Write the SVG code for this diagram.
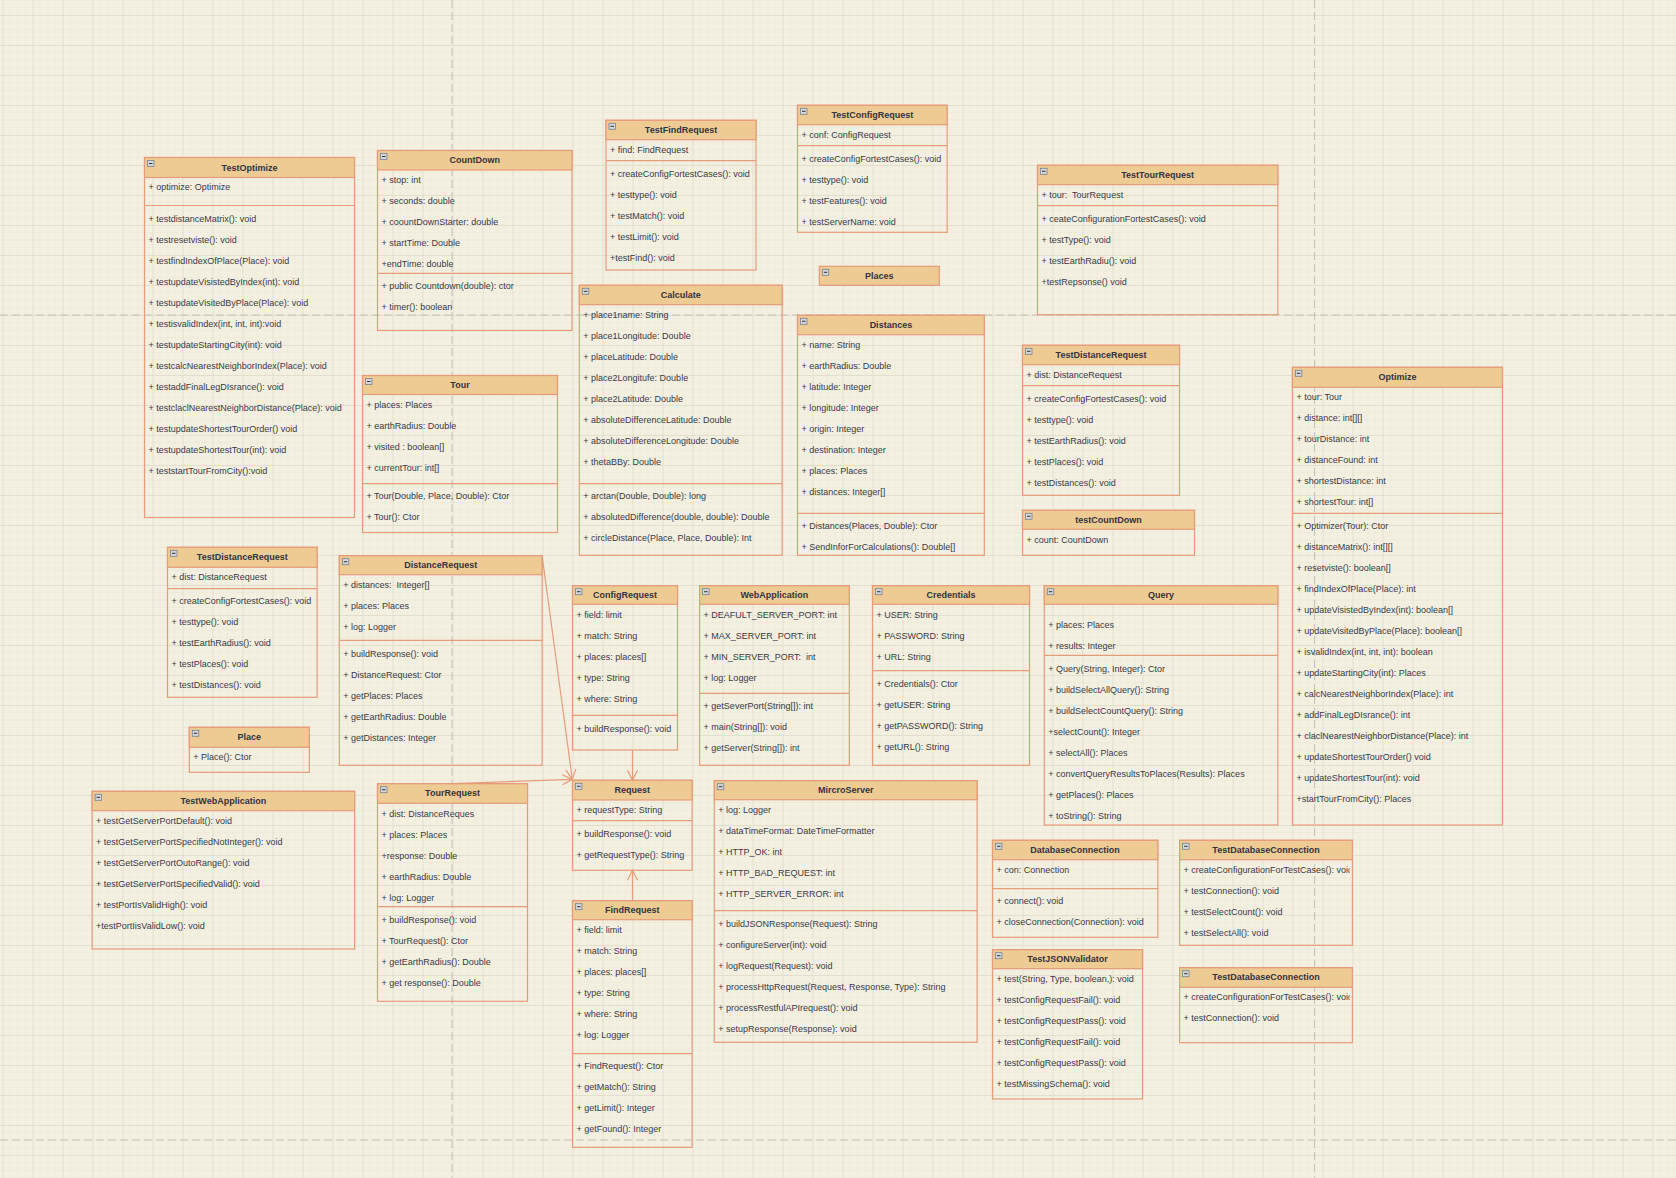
<svg xmlns="http://www.w3.org/2000/svg" xmlns:xlink="http://www.w3.org/1999/xlink" width="1676" height="1178" viewBox="0 0 1676 1178">
  <style>
    .b { fill: none; stroke: #E69B7B; stroke-width: 1.2; }
    .h { fill: #EDCB93; stroke: #E69B7B; stroke-width: 1.2; }
    .s { stroke: #E69B7B; stroke-width: 1.2; }
    .t { font-family: "Liberation Sans", Arial, sans-serif; font-size: 9px; font-weight: bold; fill: #333340; text-anchor: middle; }
    .r { font-family: "Liberation Sans", Arial, sans-serif; font-size: 9px; fill: #3A3A48; }
    .c { fill: none; stroke: #E69B7B; stroke-width: 1.2; marker-end: url(#open); }
    .pg { stroke: #C4C2B6; stroke-width: 1; stroke-dasharray: 8 4; }
  </style>
  <defs>
    <pattern id="grid" patternUnits="userSpaceOnUse" x="2.5" y="15" width="30" height="30">
      <rect width="30" height="30" fill="#F3F0E1"/>
      <path d="M7.5 0V30M15 0V30M22.5 0V30M0 7.5H30M0 15H30M0 22.5H30" stroke="#EEEBDA" stroke-width="1"/>
      <path d="M0.5 0V30M0 0.5H30" stroke="#E2DFCE" stroke-width="1"/>
    </pattern>
    <g id="ico">
      <rect x="0" y="0" width="6.5" height="6" fill="#D3D7DC" stroke="#7A8290" stroke-width="0.8"/>
      <path d="M1.5 3H5" stroke="#333" stroke-width="1"/>
    </g>
    <marker id="open" viewBox="-11 -6 12 12" refX="0" refY="0" markerWidth="12" markerHeight="12" markerUnits="userSpaceOnUse" orient="auto">
      <path d="M-10,-5 L0,0 L-10,5" fill="none" stroke="#E69B7B" stroke-width="1.2"/>
    </marker>
    <clipPath id="clipTdc" clipPathUnits="userSpaceOnUse">
      <rect x="0" y="0" width="170" height="200"/>
    </clipPath>
  </defs>

  <!-- canvas -->
  <rect width="1676" height="1178" fill="url(#grid)"/>
  <g id="page-breaks">
    <line class="pg" x1="452" y1="0" x2="452" y2="1178"/>
    <line class="pg" x1="1314.6" y1="0" x2="1314.6" y2="1178"/>
    <line class="pg" x1="0" y1="315" x2="1676" y2="315"/>
    <line class="pg" x1="0" y1="1140" x2="1676" y2="1140"/>
  </g>

  <g id="TestOptimize" transform="translate(144.5,157.5)">
    <rect class="b" width="210" height="360"/>
    <rect class="h" width="210" height="20"/>
    <use href="#ico" x="3" y="3"/>
    <text class="t" x="105" y="13">TestOptimize</text>
    <line class="s" x1="0" y1="48" x2="210" y2="48"/>
    <text class="r">
      <tspan x="4" y="32.5">+ optimize: Optimize</tspan>
      <tspan x="4" y="64.5">+ testdistanceMatrix(): void</tspan>
      <tspan x="4" y="85.5">+ testresetviste(): void</tspan>
      <tspan x="4" y="106.5">+ testfindIndexOfPlace(Place): void</tspan>
      <tspan x="4" y="127.5">+ testupdateVisistedByIndex(int): void</tspan>
      <tspan x="4" y="148.5">+ testupdateVisitedByPlace(Place): void</tspan>
      <tspan x="4" y="169.5">+ testisvalidIndex(int, int, int):void</tspan>
      <tspan x="4" y="190.5">+ testupdateStartingCity(int): void</tspan>
      <tspan x="4" y="211.5">+ testcalcNearestNeighborIndex(Place): void</tspan>
      <tspan x="4" y="232.5">+ testaddFinalLegDIsrance(): void</tspan>
      <tspan x="4" y="253.5">+ testclaclNearestNeighborDistance(Place): void</tspan>
      <tspan x="4" y="274.5">+ testupdateShortestTourOrder() void</tspan>
      <tspan x="4" y="295.5">+ testupdateShortestTour(int): void</tspan>
      <tspan x="4" y="316.5">+ teststartTourFromCity():void</tspan>
    </text>
  </g>

  <g id="CountDown" transform="translate(377.5,150.5)">
    <rect class="b" width="194.5" height="180"/>
    <rect class="h" width="194.5" height="19.5"/>
    <use href="#ico" x="3" y="3"/>
    <text class="t" x="97.2" y="12.8">CountDown</text>
    <line class="s" x1="0" y1="122.8" x2="194.5" y2="122.8"/>
    <text class="r">
      <tspan x="4" y="32.5">+ stop: int</tspan>
      <tspan x="4" y="53.5">+ seconds: double</tspan>
      <tspan x="4" y="74.5">+ coountDownStarter: double</tspan>
      <tspan x="4" y="95.5">+ startTime: Double</tspan>
      <tspan x="4" y="116.5">+endTime: double</tspan>
      <tspan x="4" y="138.5">+ public Countdown(double): ctor</tspan>
      <tspan x="4" y="159.5">+ timer(): boolean</tspan>
    </text>
  </g>

  <g id="Tour" transform="translate(362.5,375.5)">
    <rect class="b" width="195" height="157"/>
    <rect class="h" width="195" height="19"/>
    <use href="#ico" x="3" y="3"/>
    <text class="t" x="97.5" y="12.5">Tour</text>
    <line class="s" x1="0" y1="108.2" x2="195" y2="108.2"/>
    <text class="r">
      <tspan x="4" y="32.5">+ places: Places</tspan>
      <tspan x="4" y="53.5">+ earthRadius: Double</tspan>
      <tspan x="4" y="74.5">+ visited : boolean[]</tspan>
      <tspan x="4" y="95.5">+ currentTour: int[]</tspan>
      <tspan x="4" y="123.5">+ Tour(Double, Place, Double): Ctor</tspan>
      <tspan x="4" y="144.5">+ Tour(): Ctor</tspan>
    </text>
  </g>

  <g id="TestFindRequest" transform="translate(606,120.3)">
    <rect class="b" width="150" height="149.7"/>
    <rect class="h" width="150" height="19.4"/>
    <use href="#ico" x="3" y="3"/>
    <text class="t" x="75" y="12.7">TestFindRequest</text>
    <line class="s" x1="0" y1="40.4" x2="150" y2="40.4"/>
    <text class="r">
      <tspan x="4" y="32.7">+ find: FindRequest</tspan>
      <tspan x="4" y="56.7">+ createConfigFortestCases(): void</tspan>
      <tspan x="4" y="77.7">+ testtype(): void</tspan>
      <tspan x="4" y="98.7">+ testMatch(): void</tspan>
      <tspan x="4" y="119.7">+ testLimit(): void</tspan>
      <tspan x="4" y="140.7">+testFind(): void</tspan>
    </text>
  </g>

  <g id="TestConfigRequest" transform="translate(797.5,105.3)">
    <rect class="b" width="149.6" height="127"/>
    <rect class="h" width="149.6" height="19.4"/>
    <use href="#ico" x="3" y="3"/>
    <text class="t" x="74.8" y="12.7">TestConfigRequest</text>
    <line class="s" x1="0" y1="40.4" x2="149.6" y2="40.4"/>
    <text class="r">
      <tspan x="4" y="32.7">+ conf: ConfigRequest</tspan>
      <tspan x="4" y="56.7">+ createConfigFortestCases(): void</tspan>
      <tspan x="4" y="77.7">+ testtype(): void</tspan>
      <tspan x="4" y="98.7">+ testFeatures(): void</tspan>
      <tspan x="4" y="119.7">+ testServerName: void</tspan>
    </text>
  </g>

  <g id="Places" transform="translate(819.3,266.3)">
    <rect class="h" width="120" height="19"/>
    <use href="#ico" x="3" y="3"/>
    <text class="t" x="60" y="12.5">Places</text>
  </g>

  <g id="Calculate" transform="translate(579.3,285.3)">
    <rect class="b" width="202.8" height="270"/>
    <rect class="h" width="202.8" height="19.4"/>
    <use href="#ico" x="3" y="3"/>
    <text class="t" x="101.4" y="12.7">Calculate</text>
    <line class="s" x1="0" y1="198.4" x2="202.8" y2="198.4"/>
    <text class="r">
      <tspan x="4" y="32.7">+ place1name: String</tspan>
      <tspan x="4" y="53.7">+ place1Longitude: Double</tspan>
      <tspan x="4" y="74.7">+ placeLatitude: Double</tspan>
      <tspan x="4" y="95.7">+ place2Longitufe: Double</tspan>
      <tspan x="4" y="116.7">+ place2Latitude: Double</tspan>
      <tspan x="4" y="137.7">+ absoluteDifferenceLatitude: Double</tspan>
      <tspan x="4" y="158.7">+ absoluteDifferenceLongitude: Double</tspan>
      <tspan x="4" y="179.7">+ thetaBBy: Double</tspan>
      <tspan x="4" y="213.7">+ arctan(Double, Double): long</tspan>
      <tspan x="4" y="234.7">+ absolutedDifference(double, double): Double</tspan>
      <tspan x="4" y="255.7">+ circleDistance(Place, Place, Double): Int</tspan>
    </text>
  </g>

  <g id="Distances" transform="translate(797.5,315.3)">
    <rect class="b" width="186.8" height="240"/>
    <rect class="h" width="186.8" height="19.4"/>
    <use href="#ico" x="3" y="3"/>
    <text class="t" x="93.4" y="12.7">Distances</text>
    <line class="s" x1="0" y1="198" x2="186.8" y2="198"/>
    <text class="r">
      <tspan x="4" y="32.7">+ name: String</tspan>
      <tspan x="4" y="53.7">+ earthRadius: Double</tspan>
      <tspan x="4" y="74.7">+ latitude: Integer</tspan>
      <tspan x="4" y="95.7">+ longitude: Integer</tspan>
      <tspan x="4" y="116.7">+ origin: Integer</tspan>
      <tspan x="4" y="137.7">+ destination: Integer</tspan>
      <tspan x="4" y="158.7">+ places: Places</tspan>
      <tspan x="4" y="179.7">+ distances: Integer[]</tspan>
      <tspan x="4" y="213.7">+ Distances(Places, Double): Ctor</tspan>
      <tspan x="4" y="234.7">+ SendInforForCalculations(): Double[]</tspan>
    </text>
  </g>

  <g id="TestTourRequest" transform="translate(1037.5,165.3)">
    <rect class="b" width="240.3" height="149.4"/>
    <rect class="h" width="240.3" height="19.4"/>
    <use href="#ico" x="3" y="3"/>
    <text class="t" x="120.1" y="12.7">TestTourRequest</text>
    <line class="s" x1="0" y1="40.4" x2="240.3" y2="40.4"/>
    <text class="r" xml:space="preserve">
      <tspan x="4" y="32.7">+ tour:  TourRequest</tspan>
      <tspan x="4" y="56.7">+ ceateConfigurationFortestCases(): void</tspan>
      <tspan x="4" y="77.7">+ testType(): void</tspan>
      <tspan x="4" y="98.7">+ testEarthRadiu(): void</tspan>
      <tspan x="4" y="119.7">+testRepsonse() void</tspan>
    </text>
  </g>

  <g id="TestDistanceRequest-b" transform="translate(1022.5,345.3)">
    <rect class="b" width="157" height="150"/>
    <rect class="h" width="157" height="19.4"/>
    <use href="#ico" x="3" y="3"/>
    <text class="t" x="78.5" y="12.7">TestDistanceRequest</text>
    <line class="s" x1="0" y1="40.4" x2="157" y2="40.4"/>
    <text class="r">
      <tspan x="4" y="32.7">+ dist: DistanceRequest</tspan>
      <tspan x="4" y="56.7">+ createConfigFortestCases(): void</tspan>
      <tspan x="4" y="77.7">+ testtype(): void</tspan>
      <tspan x="4" y="98.7">+ testEarthRadius(): void</tspan>
      <tspan x="4" y="119.7">+ testPlaces(): void</tspan>
      <tspan x="4" y="140.7">+ testDistances(): void</tspan>
    </text>
  </g>

  <g id="testCountDown" transform="translate(1022.5,510.3)">
    <rect class="b" width="172" height="45"/>
    <rect class="h" width="172" height="19"/>
    <use href="#ico" x="3" y="3"/>
    <text class="t" x="86" y="12.5">testCountDown</text>
    <text class="r" x="4" y="32.7">+ count: CountDown</text>
  </g>

  <g id="Optimize" transform="translate(1292.4,367.3)">
    <rect class="b" width="210" height="457.7"/>
    <rect class="h" width="210" height="20"/>
    <use href="#ico" x="3" y="3"/>
    <text class="t" x="105" y="13">Optimize</text>
    <line class="s" x1="0" y1="146" x2="210" y2="146"/>
    <text class="r">
      <tspan x="4" y="32.7">+ tour: Tour</tspan>
      <tspan x="4" y="53.7">+ distance: int[][]</tspan>
      <tspan x="4" y="74.7">+ tourDistance: int</tspan>
      <tspan x="4" y="95.7">+ distanceFound: int</tspan>
      <tspan x="4" y="116.7">+ shortestDistance: int</tspan>
      <tspan x="4" y="137.7">+ shortestTour: int[]</tspan>
      <tspan x="4" y="161.7">+ Optimizer(Tour): Ctor</tspan>
      <tspan x="4" y="182.7">+ distanceMatrix(): int[][]</tspan>
      <tspan x="4" y="203.7">+ resetviste(): boolean[]</tspan>
      <tspan x="4" y="224.7">+ findIndexOfPlace(Place): int</tspan>
      <tspan x="4" y="245.7">+ updateVisistedByIndex(int): boolean[]</tspan>
      <tspan x="4" y="266.7">+ updateVisitedByPlace(Place): boolean[]</tspan>
      <tspan x="4" y="287.7">+ isvalidIndex(int, int, int): boolean</tspan>
      <tspan x="4" y="308.7">+ updateStartingCity(int): Places</tspan>
      <tspan x="4" y="329.7">+ calcNearestNeighborIndex(Place): int</tspan>
      <tspan x="4" y="350.7">+ addFinalLegDIsrance(): int</tspan>
      <tspan x="4" y="371.7">+ claclNearestNeighborDistance(Place): int</tspan>
      <tspan x="4" y="392.7">+ updateShortestTourOrder() void</tspan>
      <tspan x="4" y="413.7">+ updateShortestTour(int): void</tspan>
      <tspan x="4" y="434.7">+startTourFromCity(): Places</tspan>
    </text>
  </g>

  <g id="TestDistanceRequest-a" transform="translate(167.5,547.3)">
    <rect class="b" width="149.6" height="150"/>
    <rect class="h" width="149.6" height="20"/>
    <use href="#ico" x="3" y="3"/>
    <text class="t" x="74.8" y="13">TestDistanceRequest</text>
    <line class="s" x1="0" y1="41.4" x2="149.6" y2="41.4"/>
    <text class="r">
      <tspan x="4" y="32.7">+ dist: DistanceRequest</tspan>
      <tspan x="4" y="56.7">+ createConfigFortestCases(): void</tspan>
      <tspan x="4" y="77.7">+ testtype(): void</tspan>
      <tspan x="4" y="98.7">+ testEarthRadius(): void</tspan>
      <tspan x="4" y="119.7">+ testPlaces(): void</tspan>
      <tspan x="4" y="140.7">+ testDistances(): void</tspan>
    </text>
  </g>

  <g id="DistanceRequest" transform="translate(339.3,555.7)">
    <rect class="b" width="202.8" height="209.6"/>
    <rect class="h" width="202.8" height="19"/>
    <use href="#ico" x="3" y="3"/>
    <text class="t" x="101.4" y="12.5">DistanceRequest</text>
    <line class="s" x1="0" y1="84.6" x2="202.8" y2="84.6"/>
    <text class="r" xml:space="preserve">
      <tspan x="4" y="32.3">+ distances:  Integer[]</tspan>
      <tspan x="4" y="53.3">+ places: Places</tspan>
      <tspan x="4" y="74.3">+ log: Logger</tspan>
      <tspan x="4" y="101.3">+ buildResponse(): void</tspan>
      <tspan x="4" y="122.3">+ DistanceRequest: Ctor</tspan>
      <tspan x="4" y="143.3">+ getPlaces: Places</tspan>
      <tspan x="4" y="164.3">+ getEarthRadius: Double</tspan>
      <tspan x="4" y="185.3">+ getDistances: Integer</tspan>
    </text>
  </g>

  <g id="Place" transform="translate(189.3,727.3)">
    <rect class="b" width="120" height="45"/>
    <rect class="h" width="120" height="20"/>
    <use href="#ico" x="3" y="3"/>
    <text class="t" x="60" y="13">Place</text>
    <text class="r" x="4" y="32.7">+ Place(): Ctor</text>
  </g>

  <g id="ConfigRequest" transform="translate(572.5,585.7)">
    <rect class="b" width="105" height="164.3"/>
    <rect class="h" width="105" height="18.6"/>
    <use href="#ico" x="3" y="3"/>
    <text class="t" x="52.5" y="12.3">ConfigRequest</text>
    <line class="s" x1="0" y1="129.6" x2="105" y2="129.6"/>
    <text class="r">
      <tspan x="4" y="32.3">+ field: limit</tspan>
      <tspan x="4" y="53.3">+ match: String</tspan>
      <tspan x="4" y="74.3">+ places: places[]</tspan>
      <tspan x="4" y="95.3">+ type: String</tspan>
      <tspan x="4" y="116.3">+ where: String</tspan>
      <tspan x="4" y="146.3">+ buildResponse(): void</tspan>
    </text>
  </g>

  <g id="WebApplication" transform="translate(699.6,585.7)">
    <rect class="b" width="149.7" height="179.6"/>
    <rect class="h" width="149.7" height="18.6"/>
    <use href="#ico" x="3" y="3"/>
    <text class="t" x="74.8" y="12.3">WebApplication</text>
    <line class="s" x1="0" y1="107.6" x2="149.7" y2="107.6"/>
    <text class="r" xml:space="preserve">
      <tspan x="4" y="32.3">+ DEAFULT_SERVER_PORT: int</tspan>
      <tspan x="4" y="53.3">+ MAX_SERVER_PORT: int</tspan>
      <tspan x="4" y="74.3">+ MIN_SERVER_PORT:  int</tspan>
      <tspan x="4" y="95.3">+ log: Logger</tspan>
      <tspan x="4" y="123.3">+ getSeverPort(String[]): int</tspan>
      <tspan x="4" y="144.3">+ main(String[]): void</tspan>
      <tspan x="4" y="165.3">+ getServer(String[]): int</tspan>
    </text>
  </g>

  <g id="Credentials" transform="translate(872.5,585.7)">
    <rect class="b" width="157" height="179.6"/>
    <rect class="h" width="157" height="18.6"/>
    <use href="#ico" x="3" y="3"/>
    <text class="t" x="78.5" y="12.3">Credentials</text>
    <line class="s" x1="0" y1="85" x2="157" y2="85"/>
    <text class="r">
      <tspan x="4" y="32.3">+ USER: String</tspan>
      <tspan x="4" y="53.3">+ PASSWORD: String</tspan>
      <tspan x="4" y="74.3">+ URL: String</tspan>
      <tspan x="4" y="101.3">+ Credentials(): Ctor</tspan>
      <tspan x="4" y="122.3">+ getUSER: String</tspan>
      <tspan x="4" y="143.3">+ getPASSWORD(): String</tspan>
      <tspan x="4" y="164.3">+ getURL(): String</tspan>
    </text>
  </g>

  <g id="Query" transform="translate(1044.3,585.7)">
    <rect class="b" width="233.5" height="239.3"/>
    <rect class="h" width="233.5" height="18.6"/>
    <use href="#ico" x="3" y="3"/>
    <text class="t" x="116.7" y="12.3">Query</text>
    <line class="s" x1="0" y1="69.6" x2="233.5" y2="69.6"/>
    <text class="r">
      <tspan x="4" y="42.3">+ places: Places</tspan>
      <tspan x="4" y="63.3">+ results: Integer</tspan>
      <tspan x="4" y="86.3">+ Query(String, Integer): Ctor</tspan>
      <tspan x="4" y="107.3">+ buildSelectAllQuery(): String</tspan>
      <tspan x="4" y="128.3">+ buildSelectCountQuery(): String</tspan>
      <tspan x="4" y="149.3">+selectCount(): Integer</tspan>
      <tspan x="4" y="170.3">+ selectAll(): Places</tspan>
      <tspan x="4" y="191.3">+ convertQueryResultsToPlaces(Results): Places</tspan>
      <tspan x="4" y="212.3">+ getPlaces(): Places</tspan>
      <tspan x="4" y="233.3">+ toString(): String</tspan>
    </text>
  </g>

  <g id="TestWebApplication" transform="translate(92.1,791.3)">
    <rect class="b" width="262.5" height="157.7"/>
    <rect class="h" width="262.5" height="19.4"/>
    <use href="#ico" x="3" y="3"/>
    <text class="t" x="131.2" y="12.7">TestWebApplication</text>
    <text class="r">
      <tspan x="4" y="32.7">+ testGetServerPortDefault(): void</tspan>
      <tspan x="4" y="53.7">+ testGetServerPortSpecifiedNotInteger(): void</tspan>
      <tspan x="4" y="74.7">+ testGetServerPortOutoRange(): void</tspan>
      <tspan x="4" y="95.7">+ testGetServerPortSpecifiedValid(): void</tspan>
      <tspan x="4" y="116.7">+ testPortIsValidHigh(): void</tspan>
      <tspan x="4" y="137.7">+testPortIisValidLow(): void</tspan>
    </text>
  </g>

  <g id="TourRequest" transform="translate(377.5,783.7)">
    <rect class="b" width="150" height="217.6"/>
    <rect class="h" width="150" height="19.6"/>
    <use href="#ico" x="3" y="3"/>
    <text class="t" x="75" y="12.8">TourRequest</text>
    <line class="s" x1="0" y1="123" x2="150" y2="123"/>
    <text class="r">
      <tspan x="4" y="33.3">+ dist: DistanceReques</tspan>
      <tspan x="4" y="54.3">+ places: Places</tspan>
      <tspan x="4" y="75.3">+response: Double</tspan>
      <tspan x="4" y="96.3">+ earthRadius: Double</tspan>
      <tspan x="4" y="117.3">+ log: Logger</tspan>
      <tspan x="4" y="139.3">+ buildResponse(): void</tspan>
      <tspan x="4" y="160.3">+ TourRequest(): Ctor</tspan>
      <tspan x="4" y="181.3">+ getEarthRadius(): Double</tspan>
      <tspan x="4" y="202.3">+ get response(): Double</tspan>
    </text>
  </g>

  <g id="Request" transform="translate(572.5,780.3)">
    <rect class="b" width="119.6" height="90"/>
    <rect class="h" width="119.6" height="19.7"/>
    <use href="#ico" x="3" y="3"/>
    <text class="t" x="59.8" y="12.8">Request</text>
    <line class="s" x1="0" y1="40.4" x2="119.6" y2="40.4"/>
    <text class="r">
      <tspan x="4" y="32.7">+ requestType: String</tspan>
      <tspan x="4" y="56.7">+ buildResponse(): void</tspan>
      <tspan x="4" y="77.7">+ getRequestType(): String</tspan>
    </text>
  </g>

  <g id="FindRequest" transform="translate(572.5,900.7)">
    <rect class="b" width="119.6" height="246.6"/>
    <rect class="h" width="119.6" height="19"/>
    <use href="#ico" x="3" y="3"/>
    <text class="t" x="59.8" y="12.5">FindRequest</text>
    <line class="s" x1="0" y1="153" x2="119.6" y2="153"/>
    <text class="r">
      <tspan x="4" y="32.3">+ field: limit</tspan>
      <tspan x="4" y="53.3">+ match: String</tspan>
      <tspan x="4" y="74.3">+ places: places[]</tspan>
      <tspan x="4" y="95.3">+ type: String</tspan>
      <tspan x="4" y="116.3">+ where: String</tspan>
      <tspan x="4" y="137.3">+ log: Logger</tspan>
      <tspan x="4" y="168.3">+ FindRequest(): Ctor</tspan>
      <tspan x="4" y="189.3">+ getMatch(): String</tspan>
      <tspan x="4" y="210.3">+ getLimit(): Integer</tspan>
      <tspan x="4" y="231.3">+ getFound(): Integer</tspan>
    </text>
  </g>

  <g id="MircroServer" transform="translate(714.3,780.7)">
    <rect class="b" width="262.8" height="261.6"/>
    <rect class="h" width="262.8" height="19"/>
    <use href="#ico" x="3" y="3"/>
    <text class="t" x="131.4" y="12.5">MircroServer</text>
    <line class="s" x1="0" y1="130" x2="262.8" y2="130"/>
    <text class="r">
      <tspan x="4" y="32.3">+ log: Logger</tspan>
      <tspan x="4" y="53.3">+ dataTimeFormat: DateTimeFormatter</tspan>
      <tspan x="4" y="74.3">+ HTTP_OK: int</tspan>
      <tspan x="4" y="95.3">+ HTTP_BAD_REQUEST: int</tspan>
      <tspan x="4" y="116.3">+ HTTP_SERVER_ERROR: int</tspan>
      <tspan x="4" y="146.3">+ buildJSONResponse(Request): String</tspan>
      <tspan x="4" y="167.3">+ configureServer(int): void</tspan>
      <tspan x="4" y="188.3">+ logRequest(Request): void</tspan>
      <tspan x="4" y="209.3">+ processHttpRequest(Request, Response, Type): String</tspan>
      <tspan x="4" y="230.3">+ processRestfulAPIrequest(): void</tspan>
      <tspan x="4" y="251.3">+ setupResponse(Response): void</tspan>
    </text>
  </g>

  <g id="DatabaseConnection" transform="translate(992.5,840.3)">
    <rect class="b" width="165.3" height="97"/>
    <rect class="h" width="165.3" height="19.4"/>
    <use href="#ico" x="3" y="3"/>
    <text class="t" x="82.6" y="12.7">DatabaseConnection</text>
    <line class="s" x1="0" y1="48.4" x2="165.3" y2="48.4"/>
    <text class="r">
      <tspan x="4" y="32.7">+ con: Connection</tspan>
      <tspan x="4" y="63.7">+ connect(): void</tspan>
      <tspan x="4" y="84.7">+ closeConnection(Connection): void</tspan>
    </text>
  </g>

  <g id="TestJSONValidator" transform="translate(992.5,949.7)">
    <rect class="b" width="150" height="149.3"/>
    <rect class="h" width="150" height="19"/>
    <use href="#ico" x="3" y="3"/>
    <text class="t" x="75" y="12.5">TestJSONValidator</text>
    <text class="r">
      <tspan x="4" y="32.3">+ test(String, Type, boolean,): void</tspan>
      <tspan x="4" y="53.3">+ testConfigRequestFail(): void</tspan>
      <tspan x="4" y="74.3">+ testConfigRequestPass(): void</tspan>
      <tspan x="4" y="95.3">+ testConfigRequestFail(): void</tspan>
      <tspan x="4" y="116.3">+ testConfigRequestPass(): void</tspan>
      <tspan x="4" y="137.3">+ testMissingSchema(): void</tspan>
    </text>
  </g>

  <g id="TestDatabaseConnection-a" transform="translate(1179.6,840.3)">
    <rect class="b" width="172.8" height="105"/>
    <rect class="h" width="172.8" height="19.4"/>
    <use href="#ico" x="3" y="3"/>
    <text class="t" x="86.4" y="12.7">TestDatabaseConnection</text>
    <text class="r" clip-path="url(#clipTdc)">
      <tspan x="4" y="32.7">+ createConfigurationForTestCases(): void</tspan>
      <tspan x="4" y="53.7">+ testConnection(): void</tspan>
      <tspan x="4" y="74.7">+ testSelectCount(): void</tspan>
      <tspan x="4" y="95.7">+ testSelectAll(): void</tspan>
    </text>
  </g>

  <g id="TestDatabaseConnection-b" transform="translate(1179.6,967.7)">
    <rect class="b" width="172.8" height="75"/>
    <rect class="h" width="172.8" height="19.6"/>
    <use href="#ico" x="3" y="3"/>
    <text class="t" x="86.4" y="12.8">TestDatabaseConnection</text>
    <text class="r" clip-path="url(#clipTdc)">
      <tspan x="4" y="32.3">+ createConfigurationForTestCases(): void</tspan>
      <tspan x="4" y="53.3">+ testConnection(): void</tspan>
    </text>
  </g>

  <g id="connectors">
    <path class="c" d="M542.1 555.7 L572.3 779.4"/>
    <path class="c" d="M452.5 783.7 L572.3 779.4"/>
    <path class="c" d="M632.5 750 L632.5 780.3"/>
    <path class="c" d="M632.5 900.7 L632.5 870.3"/>
  </g>
</svg>
